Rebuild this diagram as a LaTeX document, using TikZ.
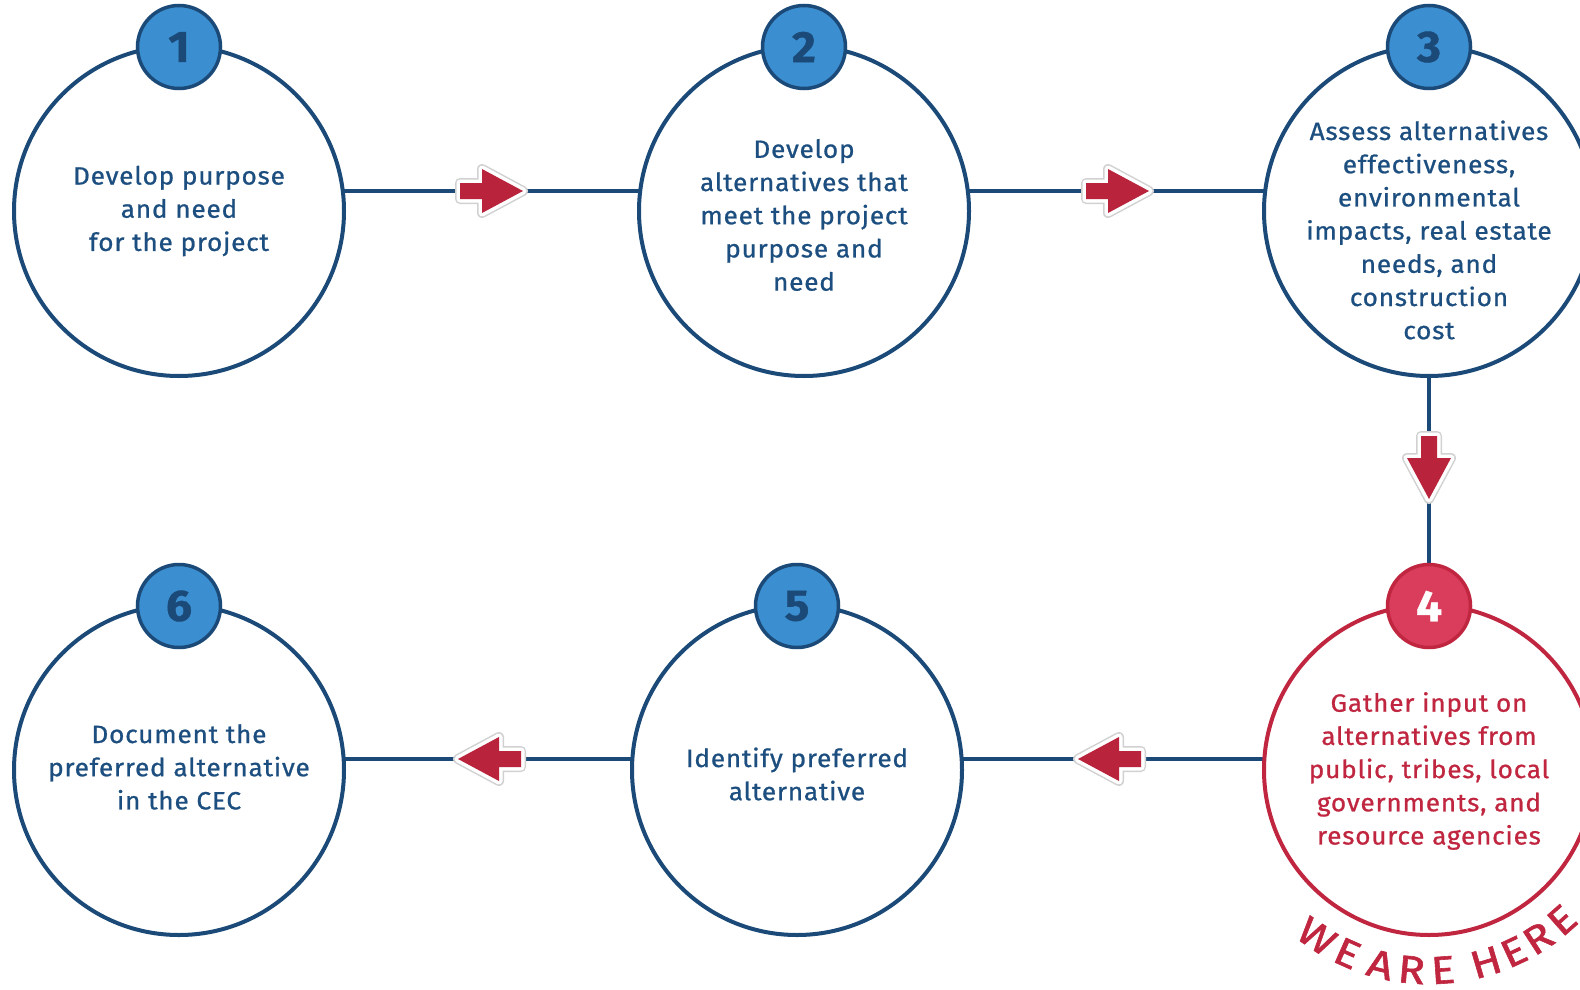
\documentclass[tikz,border=0pt]{standalone}
\usepackage{fontspec}
\setmainfont{Fira Sans}[LetterSpace=3, FakeStretch=1.05, FakeBold=0.8]
\newfontfamily\herefont{Fira Sans}[FakeStretch=1.15, FakeBold=1.5]
\usetikzlibrary{calc,backgrounds}
\definecolor{lineblue}{HTML}{1B4A78}
\definecolor{badgeblue}{HTML}{3B8ED0}
\definecolor{textblue}{HTML}{1C4E7F}
\definecolor{arrowred}{HTML}{B9233B}
\definecolor{herered}{HTML}{C0263F}
\definecolor{badgered}{HTML}{DA3C5C}
\tikzset{
  stepcirc/.style={circle, draw=lineblue, line width=4pt, fill=white, minimum size=330pt, inner sep=0pt},
  herecirc/.style={stepcirc, draw=herered},
  badge/.style={circle, draw=lineblue, line width=3.5pt, fill=badgeblue, minimum size=83pt, inner sep=0pt,
     text=lineblue, font=\fontsize{44}{44}\selectfont\bfseries},
  herebadge/.style={badge, draw=herered, fill=badgered, text=white},
  steptext/.style={align=center, text=textblue, font=\fontsize{25}{33.2}\selectfont, inner sep=0pt},
  heretext/.style={steptext, text=herered},
  conn/.style={draw=lineblue, line width=4pt},
  hereletter/.style={text=herered, font=\herefont\fontsize{39}{39}\selectfont, anchor=base, inner sep=0pt},
  barrow/.pic={
    \path[draw=black!18, line width=10pt, line join=round, fill=black!18]
      (-63,-8) -- (-41,-8) -- (-41,-22) -- (0,0) -- (-41,22) -- (-41,8) -- (-63,8) -- cycle;
    \path[draw=white, line width=7pt, line join=round, fill=white]
      (-63,-8) -- (-41,-8) -- (-41,-22) -- (0,0) -- (-41,22) -- (-41,8) -- (-63,8) -- cycle;
    \path[fill=arrowred]
      (-63,-8) -- (-41,-8) -- (-41,-22) -- (0,0) -- (-41,22) -- (-41,8) -- (-63,8) -- cycle;
  }
}
\begin{document}
\begin{tikzpicture}[x=1pt, y=-1pt]
\useasboundingbox (0,0) rectangle (1580,990);

% circles
\node[stepcirc] (c1) at (179,211) {};
\node[stepcirc] (c2) at (804,211) {};
\node[stepcirc] (c3) at (1429,211) {};
\node[herecirc] (c4) at (1429,770) {};
\node[stepcirc] (c5) at (797,770) {};
\node[stepcirc] (c6) at (179,770) {};

\coordinate (r1) at (0,191);
\coordinate (r2) at (0,759);

% page background and connectors behind circles
\begin{scope}[on background layer]
  \fill[white] (0,0) rectangle (1580,990);
  \draw[conn] (c1.center |- r1) -- (c2.center |- r1);
  \draw[conn] (c2.center |- r1) -- (c3.center |- r1);
  \draw[conn] (c3.center) -- (c4.center);
  \draw[conn] (c4.center |- r2) -- (c5.center |- r2);
  \draw[conn] (c5.center |- r2) -- (c6.center |- r2);
\end{scope}

% direction arrows
\pic at (523,191) {barrow};
\pic at (1149,191) {barrow};
\pic[rotate=-90] at (1429,499) {barrow};
\pic[rotate=180] at (1078,759) {barrow};
\pic[rotate=180] at (458,759) {barrow};

% badges
\node[badge] (b1) at (179,47) {1};
\node[badge] (b2) at (804,47) {2};
\node[badge] (b3) at (1429,47) {3};
\node[herebadge] (b4) at (1429,606) {4};
\node[badge] (b5) at (797,606) {5};
\node[badge] (b6) at (179,606) {6};

% texts
\node[steptext] (t1) at (179,211) {Develop purpose\\and need\\for the project};
\node[steptext] (t2) at (804,215) {Develop\\alternatives that\\meet the project\\purpose and\\need};
\node[steptext] (t3) at (1429,230) {Assess alternatives\\effectiveness,\\environmental\\impacts, real estate\\needs, and\\construction\\cost};
\node[heretext] (t4) at (1429,771) {Gather input on\\alternatives from\\public, tribes, local\\governments, and\\resource agencies};
\node[steptext] (t5) at (797,774) {Identify preferred\\alternative};
\node[steptext] (t6) at (179,767) {Document the\\preferred alternative\\in the CEC};

% WE ARE HERE
\foreach \ch/\ang [count=\i] in {W/236, E/246, A/256, R/265, E/274, H/286.5, E/295, R/303, E/311.5}{
  \node[hereletter, rotate=\ang-270] (h\i) at ($(c4.center)+(\ang:214pt)$) {\ch};
}
\end{tikzpicture}
\end{document}
